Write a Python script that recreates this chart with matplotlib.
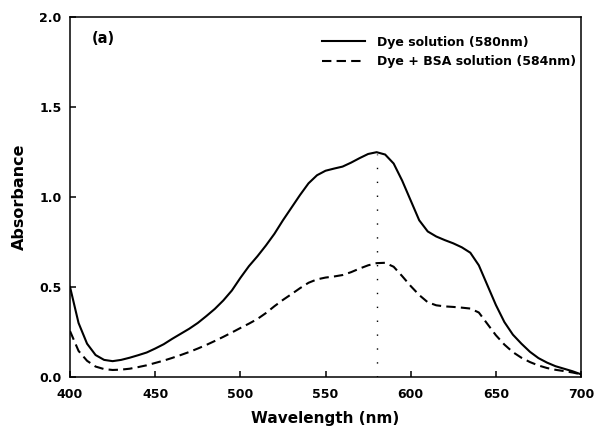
# --- imports ---
import matplotlib
matplotlib.use("Agg")
import matplotlib.pyplot as plt

# --- data (5 nm steps) ---
wavelength = list(range(400, 701, 5))

abs_dye = [0.500, 0.300, 0.185, 0.122, 0.095, 0.088, 0.095, 0.107, 0.121, 0.136,
           0.158, 0.182, 0.212, 0.240, 0.268, 0.300, 0.338, 0.378, 0.425, 0.480,
           0.550, 0.615, 0.670, 0.730, 0.795, 0.870, 0.940, 1.010, 1.075, 1.120,
           1.145, 1.157, 1.168, 1.190, 1.215, 1.238, 1.248, 1.235, 1.185, 1.090,
           0.980, 0.870, 0.808, 0.780, 0.760, 0.742, 0.720, 0.690, 0.620, 0.510,
           0.400, 0.305, 0.235, 0.185, 0.140, 0.105, 0.080, 0.060, 0.046, 0.032,
           0.015]

abs_bsa = [0.255, 0.145, 0.090, 0.058, 0.044, 0.039, 0.041, 0.046, 0.055, 0.065,
           0.078, 0.091, 0.106, 0.122, 0.139, 0.158, 0.178, 0.200, 0.223, 0.247,
           0.272, 0.296, 0.322, 0.355, 0.393, 0.428, 0.460, 0.493, 0.523, 0.542,
           0.552, 0.558, 0.566, 0.582, 0.602, 0.620, 0.632, 0.634, 0.612, 0.560,
           0.505, 0.455, 0.415, 0.398, 0.392, 0.389, 0.385, 0.380, 0.358, 0.295,
           0.232, 0.180, 0.138, 0.107, 0.083, 0.064, 0.050, 0.040, 0.033, 0.025,
           0.015]

peak_wl = 580
peak_abs = 1.24
labels = ["Dye solution (580nm)", "Dye + BSA solution (584nm)"]

plt.rcParams["font.family"] = ["DejaVu Sans"]
plt.rcParams["font.weight"] = "bold"

# --- draw ---
fig = plt.figure(figsize=(5.99, 4.32), dpi=100)
ax = fig.add_axes([0.1169, 0.1273, 0.8531, 0.834])

ax.plot(wavelength, abs_dye, color="black", lw=1.5, label=labels[0])
ax.plot(wavelength, abs_bsa, color="black", lw=1.5, linestyle=(0, (4.5, 2.5)),
        label=labels[1])
ax.plot([peak_wl, peak_wl], [0, peak_abs], color="black", lw=1.0,
        linestyle=(0, (1, 9)))

ax.set_xlim(400, 700)
ax.set_ylim(0, 2.0)
ax.set_xticks([400, 450, 500, 550, 600, 650, 700])
ax.set_yticks([0.0, 0.5, 1.0, 1.5, 2.0])
ax.set_yticklabels(["0.0", "0.5", "1.0", "1.5", "2.0"])
ax.tick_params(direction="in", length=4, width=1.1, labelsize=9,
               top=False, right=False)
ax.tick_params(axis="x", pad=8)
ax.tick_params(axis="y", pad=6)
for s in ax.spines.values():
    s.set_linewidth(1.1)

ax.set_xlabel("Wavelength (nm)", fontsize=11, fontweight="bold", labelpad=7)
ax.set_ylabel("Absorbance", fontsize=11.5, fontweight="bold", labelpad=9)

ax.text(413, 1.88, "(a)", fontsize=10.5, fontweight="bold", va="center")

ax.legend(loc="upper left", bbox_to_anchor=(0.493, 0.947), frameon=False,
          fontsize=9, handlelength=3.45, handletextpad=0.95, borderpad=0,
          borderaxespad=0, labelspacing=0.5)

fig.savefig("out.png", dpi=100)
